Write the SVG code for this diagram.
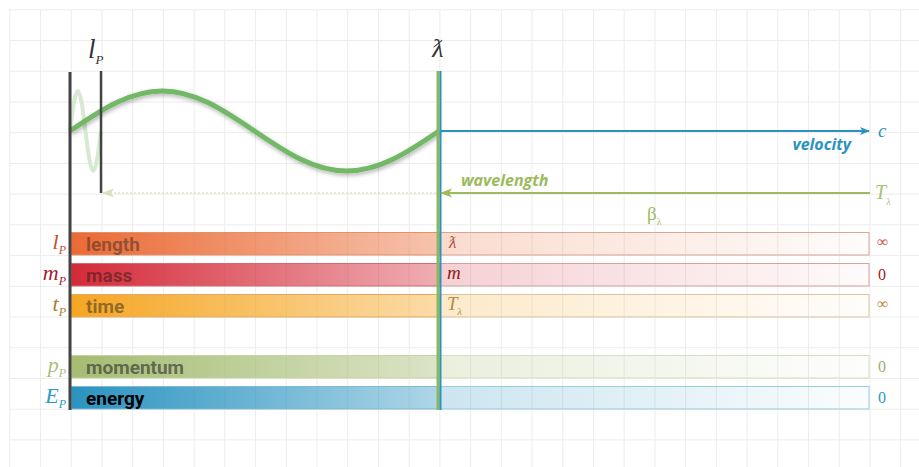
<svg xmlns="http://www.w3.org/2000/svg" width="919" height="467" viewBox="0 0 919 467">
<defs>
<pattern id="grid" x="9.3" y="9.3" width="30.72" height="30.72" patternUnits="userSpaceOnUse">
<path d="M0.5,0 V30.72 M0,0.5 H30.72" fill="none" stroke="#ececec" stroke-width="1"/>
</pattern>
<filter id="shadow" x="-10%" y="-30%" width="120%" height="160%">
<feDropShadow dx="1" dy="2" stdDeviation="2" flood-color="#000" flood-opacity="0.3"/>
</filter>
<marker id="arrBlue" markerWidth="10" markerHeight="10" refX="9" refY="5" orient="auto" markerUnits="userSpaceOnUse">
<path d="M0,1 L10,5 L0,9 L2.5,5 Z" fill="#2a93c0"/>
</marker>
<marker id="arrGreen" markerWidth="12" markerHeight="10" refX="11" refY="5" orient="auto" markerUnits="userSpaceOnUse">
<path d="M0,0.5 L12,5 L0,9.5 L3,5 Z" fill="#9cbb5c"/>
</marker>
<marker id="arrFaint" markerWidth="12" markerHeight="10" refX="11" refY="5" orient="auto" markerUnits="userSpaceOnUse">
<path d="M0,0.5 L12,5 L0,9.5 L3,5 Z" fill="#d6e2bd"/>
</marker>
<linearGradient id="gLenL" x1="0" x2="1"><stop offset="0" stop-color="#ea6a33"/><stop offset="1" stop-color="#ea6a33" stop-opacity="0.4"/></linearGradient>
<linearGradient id="gLenR" x1="0" x2="1"><stop offset="0" stop-color="#ea6a33" stop-opacity="0.24"/><stop offset="1" stop-color="#ea6a33" stop-opacity="0.02"/></linearGradient>
<linearGradient id="gMasL" x1="0" x2="1"><stop offset="0" stop-color="#d42a38"/><stop offset="1" stop-color="#d42a38" stop-opacity="0.38"/></linearGradient>
<linearGradient id="gMasR" x1="0" x2="1"><stop offset="0" stop-color="#d42a38" stop-opacity="0.22"/><stop offset="1" stop-color="#d42a38" stop-opacity="0.02"/></linearGradient>
<linearGradient id="gTimL" x1="0" x2="1"><stop offset="0" stop-color="#f5a623"/><stop offset="1" stop-color="#f5a623" stop-opacity="0.4"/></linearGradient>
<linearGradient id="gTimR" x1="0" x2="1"><stop offset="0" stop-color="#f5a623" stop-opacity="0.24"/><stop offset="1" stop-color="#f5a623" stop-opacity="0.02"/></linearGradient>
<linearGradient id="gMomL" x1="0" x2="1"><stop offset="0" stop-color="#a5bc72"/><stop offset="1" stop-color="#a5bc72" stop-opacity="0.4"/></linearGradient>
<linearGradient id="gMomR" x1="0" x2="1"><stop offset="0" stop-color="#a5bc72" stop-opacity="0.24"/><stop offset="1" stop-color="#a5bc72" stop-opacity="0.02"/></linearGradient>
<linearGradient id="gEneL" x1="0" x2="1"><stop offset="0" stop-color="#2a93c0"/><stop offset="1" stop-color="#2a93c0" stop-opacity="0.38"/></linearGradient>
<linearGradient id="gEneR" x1="0" x2="1"><stop offset="0" stop-color="#2a93c0" stop-opacity="0.24"/><stop offset="1" stop-color="#2a93c0" stop-opacity="0.02"/></linearGradient>
</defs>
<style>
.math{font-family:"Liberation Serif","DejaVu Serif",serif;font-style:italic}
.num{font-family:"Liberation Serif","DejaVu Serif",serif;font-size:16px}
.blab{font-family:Roboto,"Liberation Sans",sans-serif;font-weight:bold;font-size:19px}
.conlab{font-family:"Open Sans","Liberation Sans",sans-serif;font-weight:bold;font-style:italic;font-size:16px}
</style>
<rect width="919" height="467" fill="#ffffff"/>
<rect x="9" y="9" width="910" height="458" fill="url(#grid)"/>

<g id="bar-length">
<rect x="71" y="232.5" width="368" height="22.5" fill="url(#gLenL)" stroke="#e0916f" stroke-width="1"/>
<rect x="440" y="232.5" width="429" height="22.5" fill="url(#gLenR)" stroke="#d9a596" stroke-width="1"/>
<text x="86" y="250.5" class="blab" fill="#3a2a22" fill-opacity="0.5">length</text>
<text x="449" y="248" class="math" font-size="17" fill="#b0483a">ƛ</text>
<text x="66" y="249" class="math" font-size="22" fill="#c0522b" text-anchor="end">l<tspan font-size="12" dy="5">P</tspan></text>
<text x="877" y="247" class="num" fill="#c0604a">∞</text>
</g>

<g id="bar-mass">
<rect x="71" y="263.5" width="368" height="22.5" fill="url(#gMasL)" stroke="#d06a70" stroke-width="1"/>
<rect x="440" y="263.5" width="429" height="22.5" fill="url(#gMasR)" stroke="#d4a3a0" stroke-width="1"/>
<text x="86" y="281.5" class="blab" fill="#3a1a1a" fill-opacity="0.55">mass</text>
<text x="447" y="279" class="math" font-size="19" fill="#8b1a1a">m</text>
<text x="66" y="280" class="math" font-size="22" fill="#a02030" text-anchor="end">m<tspan font-size="12" dy="5">P</tspan></text>
<text x="878" y="280" class="num" fill="#a02020">0</text>
</g>

<g id="bar-time">
<rect x="71" y="294.5" width="368" height="22.5" fill="url(#gTimL)" stroke="#e3a860" stroke-width="1"/>
<rect x="440" y="294.5" width="429" height="22.5" fill="url(#gTimR)" stroke="#dcc3a0" stroke-width="1"/>
<text x="86" y="312.5" class="blab" fill="#3a3020" fill-opacity="0.55">time</text>
<text x="447" y="310" class="math" font-size="19" fill="#b98a40">T<tspan font-size="10" dy="5">λ</tspan></text>
<text x="66" y="311" class="math" font-size="22" fill="#b07a30" text-anchor="end">t<tspan font-size="12" dy="5">P</tspan></text>
<text x="877" y="309" class="num" fill="#c08a40">∞</text>
</g>

<g id="bar-momentum">
<rect x="71" y="355.5" width="368" height="22.5" fill="url(#gMomL)" stroke="#c5d2a6" stroke-width="1"/>
<rect x="440" y="355.5" width="429" height="22.5" fill="url(#gMomR)" stroke="#d8dfbd" stroke-width="1"/>
<text x="86" y="373.5" class="blab" fill="#333333" fill-opacity="0.65">momentum</text>
<text x="66" y="372" class="math" font-size="22" fill="#a8c07a" text-anchor="end">p<tspan font-size="12" dy="5">P</tspan></text>
<text x="878" y="372" class="num" fill="#a0b070">0</text>
</g>

<g id="bar-energy">
<rect x="71" y="386.5" width="368" height="22.5" fill="url(#gEneL)" stroke="#7fb9d4" stroke-width="1"/>
<rect x="440" y="386.5" width="429" height="22.5" fill="url(#gEneR)" stroke="#95cde2" stroke-width="1"/>
<text x="86" y="404.5" class="blab" fill="#000000">energy</text>
<text x="66" y="403" class="math" font-size="22" fill="#2a9bc4" text-anchor="end">E<tspan font-size="12" dy="5">P</tspan></text>
<text x="878" y="403" class="num" fill="#2a9bc4">0</text>
</g>

<g id="wave-planck">
<path d="M70,131 C71.29,120.53 72.58,110.12 73.875,102.72 C75.17,95.32 76.46,91 77.75,91 C79.04,91 80.33,95.32 81.625,102.72 C82.92,110.12 84.21,120.53 85.5,131 C86.79,141.47 88.08,151.88 89.375,159.28 C90.67,166.68 91.96,171 93.25,171 C94.54,171 95.83,166.68 97.125,159.28 C98.42,151.88 99.71,141.47 101,131" fill="none" stroke="#d5ead0" stroke-width="4"/>
</g>

<g id="wave-main">
<path d="M70,131 C85.375,120.53 100.75,110.12 116.125,102.72 C131.5,95.32 146.875,91 162.25,91 C177.625,91 193,95.32 208.375,102.72 C223.75,110.12 239.125,120.53 254.5,131 C269.875,141.47 285.25,151.88 300.625,159.28 C316,166.68 331.375,171 346.75,171 C362.125,171 377.5,166.68 392.875,159.28 C408.25,151.88 423.625,141.47 439,131" fill="none" stroke="#72b866" stroke-width="5" filter="url(#shadow)"/>
</g>

<g id="axis-planck">
<line x1="70" y1="72" x2="70" y2="410" stroke="#444444" stroke-width="3"/>
<line x1="101" y1="71" x2="101" y2="193" stroke="#444444" stroke-width="2.5"/>
<text x="88" y="58" class="math" font-size="27" fill="#333333">l<tspan font-size="13" dy="6">P</tspan></text>
</g>

<g id="axis-lambda">
<line x1="438" y1="71" x2="438" y2="410" stroke="#8db85a" stroke-width="3"/>
<line x1="440.5" y1="71" x2="440.5" y2="410" stroke="#2a93c0" stroke-width="2"/>
<text x="438" y="57" class="math" font-size="26" fill="#333333" text-anchor="middle">ƛ</text>
</g>

<g id="connectors">
<line x1="441" y1="131" x2="869" y2="131" stroke="#2a93c0" stroke-width="2" marker-end="url(#arrBlue)"/>
<text x="878" y="137" class="math" font-size="19" fill="#2a93c0">c</text>
<text x="851" y="150" class="conlab" fill="#2a93c0" text-anchor="end">velocity</text>
<line x1="870" y1="193" x2="441" y2="193" stroke="#9cbb5c" stroke-width="2" marker-end="url(#arrGreen)"/>
<text x="875" y="199" class="math" font-size="20" fill="#a8c07a">T<tspan font-size="10" dy="6">λ</tspan></text>
<text x="461" y="186" class="conlab" fill="#9cbb5c">wavelength</text>
<text x="647" y="220" font-family="'Liberation Serif','DejaVu Serif',serif" font-size="19" fill="#9cbb5c">β<tspan font-size="10" dy="5">λ</tspan></text>
<line x1="436" y1="193" x2="103" y2="193" stroke="#cfddb0" stroke-width="1.2" stroke-dasharray="2,2" marker-end="url(#arrFaint)"/>
</g>
</svg>
